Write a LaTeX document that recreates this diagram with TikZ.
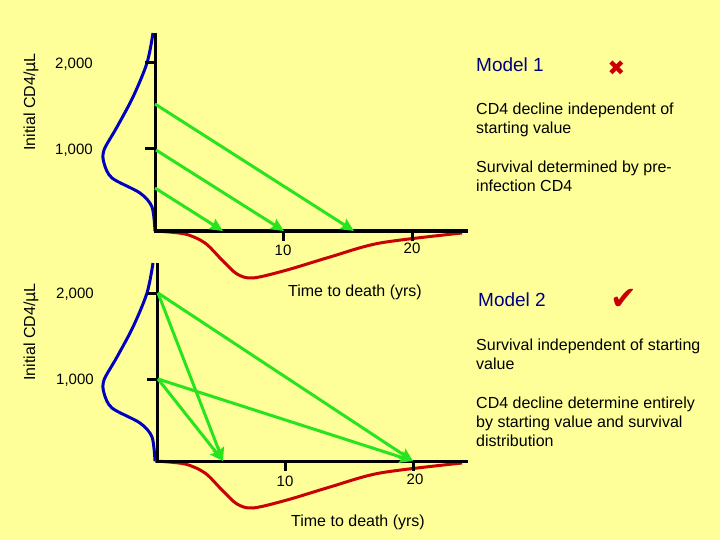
\documentclass[tikz,border=0pt]{standalone}
\usepackage{fontspec}
\setmainfont{Liberation Sans}
\newfontfamily\symbolfont{DejaVu Sans}
\usetikzlibrary{arrows.meta,positioning}

\definecolor{slideyellow}{RGB}{255,255,153}
\definecolor{declinegreen}{RGB}{40,228,30}
\definecolor{curveblue}{RGB}{0,0,190}
\definecolor{curvered}{RGB}{200,0,0}
\definecolor{headnavy}{RGB}{0,0,128}

\begin{document}
\begin{tikzpicture}[x=1pt,y=-1pt]
      \tikzstyle{axis} = [line width=3pt, black]
      \tikzstyle{arrow} = [line width=3pt, declinegreen, -{Stealth[length=13pt,width=12pt,inset=2pt]}]
      \tikzstyle{density} = [line width=3pt, curveblue]
      \tikzstyle{survival} = [line width=3pt, curvered]
      \tikzstyle{ticklabel} = [inner sep=0, font=\fontsize{15}{18}\selectfont, anchor=base]
      \tikzstyle{timelabel} = [inner sep=0, font=\fontsize{16}{18}\selectfont, anchor=base]
      \tikzstyle{ylabel} = [inner sep=0, font=\fontsize{16}{18}\selectfont, rotate=90]
      \tikzstyle{heading} = [inner sep=0, anchor=west, text=headnavy, font=\fontsize{19}{22}\selectfont]
      \tikzstyle{note} = [inner sep=0, anchor=north west, align=left, font=\fontsize{16}{19}\selectfont]
      \tikzstyle{verdict} = [inner sep=0, text=curvered]

      % slide background
      \fill[slideyellow] (0,0) rectangle (720,540);

      % ---- model 1 ----
      \draw[density] plot[smooth] coordinates {(153,33) (147,63) (133,97) (117,127) (104,150) (104,163) (112,178) (140,193) (152,207) (155,231)};
      \draw[survival] plot[smooth] coordinates {(155,231) (185,234) (205,243) (222,260) (237,274) (253,278) (287,270) (330,257) (380,243) (462,233)};
      \draw[axis] (155,33) -- (155,231) -- (468,231);
      \draw[axis] (145,63) -- (155,63);
      \draw[axis] (145,149) -- (155,149);
      \draw[axis] (283,231) -- (283,241);
      \draw[axis] (412,231) -- (412,241);

      \node (ylabel-one) [ylabel] at (31,102) {Initial CD4/\symbolfont μ\rmfamily L};
      \node (two-thousand-one) [ticklabel] at (74,69) {2,000};
      \node (one-thousand-one) [ticklabel] at (74,155) {1,000};
      \node (ten-one) [ticklabel] at (283,255) {10};
      \node (twenty-one) [ticklabel] at (412,253) {20};
      \node (time-one) [timelabel] at (355,296) {Time to death (yrs)};

      \coordinate (start-hi-one) at (155,104);
      \coordinate (start-mid-one) at (156,150);
      \coordinate (start-lo-one) at (155,188);
      \coordinate (end-late-one) at (354,231);
      \coordinate (end-ten-one) at (284,231);
      \coordinate (end-early-one) at (223,231);
      \draw [arrow] (start-hi-one) -- (end-late-one);
      \draw [arrow] (start-mid-one) -- (end-ten-one);
      \draw [arrow] (start-lo-one) -- (end-early-one);

      \node (model-one) [heading] at (476,65) {Model 1};
      \node (cross) [verdict, right of=model-one, xshift=78pt, yshift=-3pt] {\symbolfont\fontsize{21}{21}\selectfont ✖};
      \node (decline-one) [note] at (476,103) {CD4 decline independent of\\starting value};
      \node (survival-one) [note] at (476,161) {Survival determined by pre-\\infection CD4};

      % ---- model 2 ----
      \draw[density] plot[smooth] coordinates {(153,263) (147,293) (133,327) (117,357) (104,380) (104,393) (112,408) (140,423) (152,437) (155,461)};
      \draw[survival] plot[smooth] coordinates {(155,461) (185,464) (205,473) (222,490) (237,504) (253,508) (287,500) (330,487) (380,473) (462,463)};
      \draw[axis] (157,263) -- (157,461) -- (468,461);
      \draw[axis] (147,293) -- (157,293);
      \draw[axis] (147,379) -- (157,379);
      \draw[axis] (285,461) -- (285,471);
      \draw[axis] (413,461) -- (413,471);

      \node (ylabel-two) [ylabel] at (31,332) {Initial CD4/\symbolfont μ\rmfamily L};
      \node (two-thousand-two) [ticklabel] at (75,298) {2,000};
      \node (one-thousand-two) [ticklabel] at (75,384) {1,000};
      \node (ten-two) [ticklabel] at (285,486) {10};
      \node (twenty-two) [ticklabel] at (415,484) {20};
      \node (time-two) [timelabel] at (358,526) {Time to death (yrs)};

      \coordinate (start-hi-two) at (158,293);
      \coordinate (start-mid-two) at (158,379);
      \coordinate (end-early-two) at (223,461);
      \coordinate (end-late-two) at (413,461);
      \draw [arrow] (start-hi-two) -- (end-early-two);
      \draw [arrow] (start-hi-two) -- (end-late-two);
      \draw [arrow] (start-mid-two) -- (end-late-two);
      \draw [arrow] (start-mid-two) -- (end-early-two);

      \node (model-two) [heading] at (478,300) {Model 2};
      \node (check) [verdict, right of=model-two, xshift=83pt, yshift=1pt] {\symbolfont\fontsize{32}{32}\selectfont ✔};
      \node (survival-two) [note] at (476,339) {Survival independent of starting\\value};
      \node (decline-two) [note] at (476,397) {CD4 decline determine entirely\\by starting value and survival\\distribution};
\end{tikzpicture}
\end{document}
